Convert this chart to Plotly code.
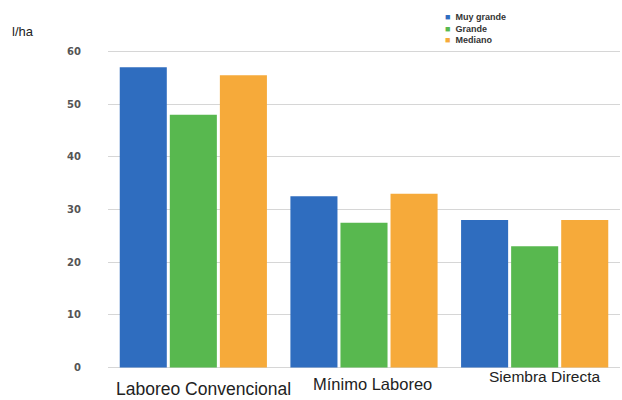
import plotly.graph_objects as go

categories = ["Laboreo Convencional", "Mínimo Laboreo", "Siembra Directa"]
series_names = ["Muy grande", "Grande", "Mediano"]
muy_grande = [57, 32.5, 28]
grande = [48, 27.5, 23]
mediano = [55.5, 33, 28]
y_ticks = [0, 10, 20, 30, 40, 50, 60]
y_unit = "l/ha"

colors = ["#2f6dbf", "#58b84f", "#f6aa3a"]
FONT = "Liberation Sans, Arial, sans-serif"

fig = go.Figure()
for name, vals, col in zip(series_names, [muy_grande, grande, mediano], colors):
    fig.add_trace(go.Bar(
        x=categories, y=vals, name=name,
        marker=dict(color=col, line=dict(width=0)),
        showlegend=False,
    ))

# category labels at staggered heights/sizes (perspective look)
label_yshift = [1, 5, 12]
label_xshift = [10, 8, 10]
label_size = [17.5, 16.5, 15.5]
for c, ys, xs, fs in zip(categories, label_yshift, label_xshift, label_size):
    fig.add_annotation(x=c, y=0, xref="x", yref="paper", yanchor="top",
                       yshift=ys, xshift=xs, text=c, showarrow=False,
                       font=dict(family=FONT, size=fs, color="#222222"))

# unit label
fig.add_annotation(x=0, y=1, xref="paper", yref="paper", xshift=-98, yshift=10,
                   text=y_unit, showarrow=False, xanchor="left", yanchor="middle",
                   font=dict(family=FONT, size=13, color="#222222"))

# compact legend built as text
legend_lines = "<br>".join(
    f"<span style='color:{c}'>■</span>&nbsp;&nbsp;{n}" for n, c in zip(series_names, colors)
)
fig.add_annotation(x=0.655, y=1, xref="paper", yref="paper", yshift=31,
                   xanchor="left", yanchor="top", align="left",
                   text=legend_lines, showarrow=False,
                   font=dict(family=FONT, size=9, color="#333333", weight="bold"))

fig.update_layout(
    width=622, height=400,
    margin=dict(l=108, r=2, t=41, b=22, autoexpand=False),
    paper_bgcolor="white", plot_bgcolor="white",
    barmode="group", bargap=0.12, bargroupgap=0.06,
    showlegend=False,
    xaxis=dict(showticklabels=False, showgrid=False, zeroline=False, showline=False),
    yaxis=dict(range=[-2, 62], tickvals=y_ticks, showgrid=True, gridcolor="#d6d6d6",
               gridwidth=1, zeroline=False, showline=False,
               tickfont=dict(family="DejaVu Sans", size=10, color="#555555", weight="bold"),
               ticklabelstandoff=26),
)

fig.write_html("out.html")
